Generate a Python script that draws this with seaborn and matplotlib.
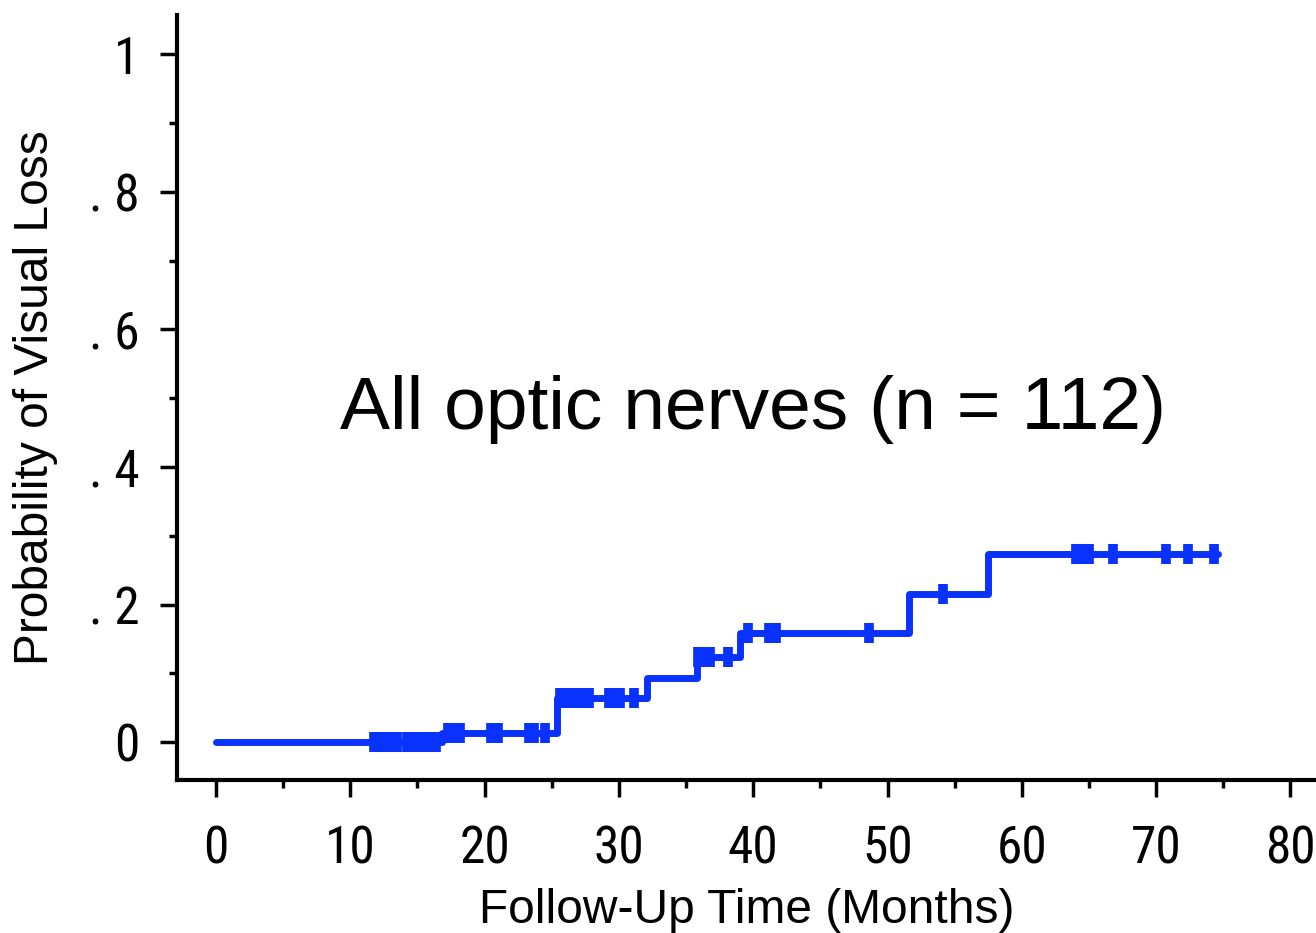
import numpy as np
import pandas as pd
import seaborn as sns
import matplotlib.pyplot as plt
from matplotlib.ticker import MultipleLocator
from matplotlib import font_manager

# step curve (cumulative probability of visual loss)
event_time = [0, 16.8, 25.4, 32.1, 35.8, 39.0, 51.6, 57.5, 74.6]
event_prob = [0, 0.013, 0.064, 0.093, 0.124, 0.158, 0.216, 0.274, 0.274]

# censored observations
censor_time = [11.8, 12.3, 12.9, 13.5, 14.2, 14.8, 15.4, 16.0, 16.4,
               17.3, 17.8, 18.2, 20.5, 21.0, 23.3, 23.7, 24.5,
               25.6, 26.2, 26.8, 27.3, 27.8, 29.3, 29.8, 30.1, 31.1,
               35.9, 36.3, 36.8, 38.1,
               39.6, 41.2, 41.7, 48.6,
               54.1,
               64.0, 64.5, 65.0, 66.8, 70.7, 72.4, 74.3]

y_ticks = [0, 0.2, 0.4, 0.6, 0.8, 1.0]
y_ticklabels = ['0', '. 2', '. 4', '. 6', '. 8', '1']
x_ticks = [0, 10, 20, 30, 40, 50, 60, 70, 80]

curve = pd.DataFrame({'time': event_time, 'prob': event_prob})
idx = np.searchsorted(event_time, censor_time, side='right') - 1
cens = pd.DataFrame({'time': censor_time, 'prob': np.array(event_prob)[idx]})

sns.set_style('ticks')
plt.rcParams['text.color'] = 'black'
plt.rcParams['xtick.color'] = 'black'
plt.rcParams['ytick.color'] = 'black'
plt.rcParams['axes.labelcolor'] = 'black'
blue = '#0A32FF'

names = {f.name for f in font_manager.fontManager.ttflist}
narrow_fp = font_manager.FontProperties(family='DejaVu Sans', stretch='condensed', size=37)
for cand in ['Liberation Sans Narrow', 'Roboto Condensed', 'Open Sans Condensed']:
    if cand in names:
        narrow_fp = font_manager.FontProperties(family=cand, size=37)
        break

fig = plt.figure(figsize=(13.16, 9.33), dpi=100)
ax = fig.add_axes([0.1345, 0.164, 0.8655, 0.820])

sns.lineplot(data=curve, x='time', y='prob', drawstyle='steps-post',
             color=blue, linewidth=5, ax=ax)
ax.plot(cens['time'], cens['prob'], linestyle='none', marker='|',
        markersize=14, markeredgewidth=7, color=blue)

ax.set_xlim(-2.9, 81.9)
ax.set_ylim(-0.055, 1.057)
ax.set_xticks(x_ticks)
ax.set_xticklabels([str(t) for t in x_ticks], fontproperties=narrow_fp)
ax.set_yticks(y_ticks)
ax.set_yticklabels(y_ticklabels, fontproperties=narrow_fp)
ax.xaxis.set_minor_locator(MultipleLocator(5))
ax.yaxis.set_minor_locator(MultipleLocator(0.1))
ax.tick_params(which='major', length=12, width=2.5)
ax.tick_params(axis='x', which='major', pad=20)
ax.tick_params(axis='y', which='major', pad=15)
ax.tick_params(which='minor', length=6, width=2.5)

for s in ['top', 'right']:
    ax.spines[s].set_visible(False)
for s in ['left', 'bottom']:
    ax.spines[s].set_linewidth(3)
    ax.spines[s].set_color('black')

ax.set_xlabel('Follow-Up Time (Months)', family='Liberation Sans',
              fontsize=34.5, labelpad=10)
ax.set_ylabel('Probability of Visual Loss', family='Liberation Sans',
              fontsize=34.5, labelpad=22)

ax.text(40, 0.483, 'All optic nerves (n = 112)', family='Liberation Sans',
        fontsize=54, ha='center', va='center')

fig.savefig('out.png', dpi=100)
